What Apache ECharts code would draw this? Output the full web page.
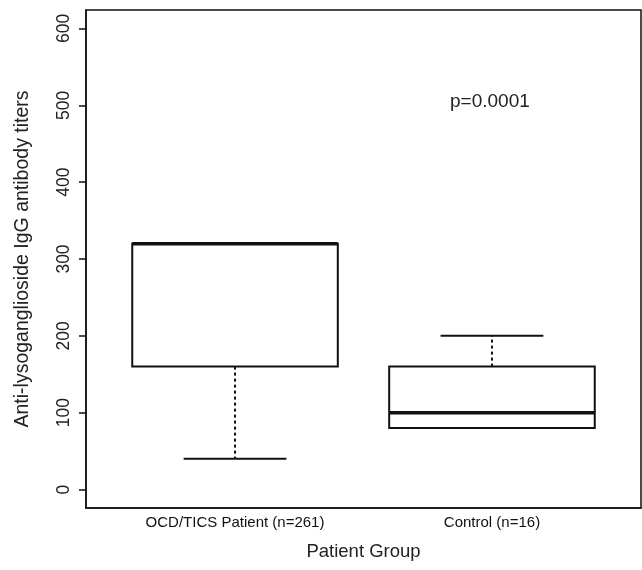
<!DOCTYPE html>
<html>
<head>
<meta charset="utf-8">
<script src="https://cdn.jsdelivr.net/npm/echarts@6/dist/echarts.min.js"></script>
<style>html,body{margin:0;padding:0;background:#fff}#c{width:642px;height:570px}</style>
</head>
<body>
<div id="c"></div>
<script>
var categories = ['OCD/TICS Patient (n=261)', 'Control (n=16)'];
// [min, Q1, median, Q3, max]
var boxStats = [
  [40, 160, 320, 320, 320],
  [80, 80, 100, 160, 200]
];
var yTicks = [0, 100, 200, 300, 400, 500, 600];
var pText = 'p=0.0001';

var chart = echarts.init(document.getElementById('c'));
var FONT = 'Liberation Sans';
var data = boxStats.map(function (s, i) { return [i + 1].concat(s); });

function renderItem(params, api) {
  var x = api.value(0);
  var mn = api.value(1), q1 = api.value(2), md = api.value(3), q3 = api.value(4), mx = api.value(5);
  var hw = 0.4, cw = 0.2;
  var pTL = api.coord([x - hw, q3]);
  var pBR = api.coord([x + hw, q1]);
  var c = api.coord([x, 0]);
  var capL = api.coord([x - cw, 0])[0], capR = api.coord([x + cw, 0])[0];
  var yMin = api.coord([x, mn])[1], yMax = api.coord([x, mx])[1];
  var yQ1 = pBR[1], yQ3 = pTL[1], yMd = api.coord([x, md])[1];
  var children = [];
  if (yMax < yQ3) children.push({type: 'line', shape: {x1: c[0], y1: yQ3, x2: c[0], y2: yMax}, style: {stroke: '#111', lineWidth: 2, lineDash: [3, 3]}});
  if (yMin > yQ1) children.push({type: 'line', shape: {x1: c[0], y1: yQ1, x2: c[0], y2: yMin}, style: {stroke: '#111', lineWidth: 2, lineDash: [3, 3]}});
  children.push({type: 'line', shape: {x1: capL, y1: yMax, x2: capR, y2: yMax}, style: {stroke: '#111', lineWidth: 2}});
  children.push({type: 'line', shape: {x1: capL, y1: yMin, x2: capR, y2: yMin}, style: {stroke: '#111', lineWidth: 2}});
  children.push({type: 'rect', shape: {x: pTL[0], y: yQ3, width: pBR[0] - pTL[0], height: yQ1 - yQ3}, style: {fill: '#fff', stroke: '#111', lineWidth: 2}});
  children.push({type: 'line', shape: {x1: pTL[0], y1: yMd, x2: pBR[0], y2: yMd}, style: {stroke: '#111', lineWidth: 3.5}});
  return {type: 'group', children: children};
}

chart.setOption({
  animation: false,
  textStyle: {fontFamily: FONT},
  grid: {left: 86, right: 1, top: 10, bottom: 62, show: true, borderColor: '#111', borderWidth: 1.5, backgroundColor: '#fff'},
  xAxis: {
    type: 'value', min: 0.42, max: 2.58,
    splitLine: {show: false},
    axisLine: {show: true, onZero: false, lineStyle: {color: '#111', width: 1.5}},
    axisTick: {show: false},
    axisLabel: {customValues: [1, 2], formatter: function (v) { return categories[Math.round(v) - 1] || ''; }, color: '#111', fontSize: 15, fontFamily: FONT, margin: 7},
    name: 'Patient Group', nameLocation: 'middle', nameGap: 34,
    nameTextStyle: {color: '#222', fontSize: 18.5, fontFamily: FONT}
  },
  yAxis: {
    type: 'value', min: -24, max: 624,
    splitLine: {show: false},
    axisLine: {show: true, onZero: false, lineStyle: {color: '#111', width: 1.5}},
    axisTick: {show: true, customValues: yTicks, length: 7, lineStyle: {color: '#111', width: 1.5}},
    axisLabel: {customValues: yTicks, rotate: 90, color: '#222', fontSize: 17.5, fontFamily: FONT, margin: 13},
    name: 'Anti-lysoganglioside IgG antibody titers', nameLocation: 'middle', nameGap: 53, nameRotate: 90,
    nameTextStyle: {color: '#222', fontSize: 19.5, fontFamily: FONT}
  },
  series: [{
    type: 'custom', renderItem: renderItem, data: data, clip: false,
    encode: {x: 0, y: [1, 2, 3, 4, 5]}
  }],
  graphic: [{type: 'text', left: 450, top: 92, style: {text: pText, fontSize: 19, fontFamily: FONT, fill: '#222'}}]
});
</script>
</body>
</html>
